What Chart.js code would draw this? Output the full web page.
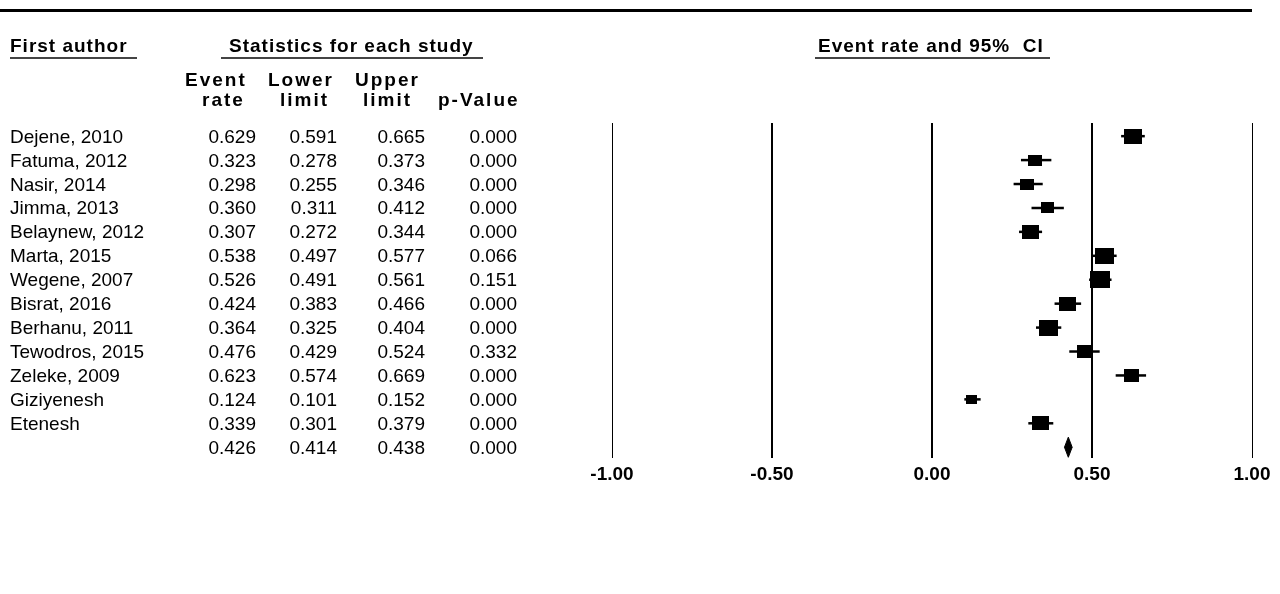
<!DOCTYPE html>
<html><head><meta charset="utf-8">
<script src="https://cdn.jsdelivr.net/npm/chart.js@4.4.1/dist/chart.umd.min.js"></script>
<style>html,body{margin:0;padding:0;background:#fff;overflow:hidden}#wrap{width:1280px;height:594px;position:relative}</style>
</head><body><div id="wrap"><canvas id="c" width="1280" height="594"></canvas></div>
<script>
// ---- data ----
const studies = ['Dejene, 2010','Fatuma, 2012','Nasir, 2014','Jimma, 2013','Belaynew, 2012','Marta, 2015','Wegene, 2007','Bisrat, 2016','Berhanu, 2011','Tewodros, 2015','Zeleke, 2009','Giziyenesh','Etenesh'];
const eventRate  = [0.629,0.323,0.298,0.360,0.307,0.538,0.526,0.424,0.364,0.476,0.623,0.124,0.339];
const lowerLimit = [0.591,0.278,0.255,0.311,0.272,0.497,0.491,0.383,0.325,0.429,0.574,0.101,0.301];
const upperLimit = [0.665,0.373,0.346,0.412,0.344,0.577,0.561,0.466,0.404,0.524,0.669,0.152,0.379];
const pValue     = ['0.000','0.000','0.000','0.000','0.000','0.066','0.151','0.000','0.000','0.332','0.000','0.000','0.000'];
const weights    = [9.27,5.36,5.36,4.95,8.65,10.51,11.68,8.17,10.30,6.70,6.70,3.71,8.65]; // relative weight (%)
const summaryRate = 0.426, summaryLower = 0.414, summaryUpper = 0.438, summaryP = '0.000';
const xTicks = [-1, -0.5, 0, 0.5, 1];

const FONT = '"Liberation Sans", Arial, sans-serif';

function boxCanvas(w, h) {
  const c = document.createElement('canvas');
  c.width = Math.round(w); c.height = Math.round(h);
  const g = c.getContext('2d');
  g.fillStyle = '#000'; g.fillRect(0, 0, c.width, c.height);
  return c;
}

const nRows = studies.length; // summary row index = nRows
const datasets = [];
datasets.push({
  label: 'studies', order: 0,
  data: eventRate.map((v, i) => ({x: v, y: i})),
  pointStyle: weights.map(w => boxCanvas(5.9 * Math.sqrt(w), 4.9 * Math.sqrt(w))),
  pointRadius: 8, showLine: false
});
studies.forEach((s, i) => {
  datasets.push({
    label: 'ci ' + s, order: 1,
    data: [{x: lowerLimit[i], y: i}, {x: upperLimit[i], y: i}],
    showLine: true, borderColor: '#000', borderWidth: 2.5, pointRadius: 0, borderCapStyle: 'butt'
  });
});
const dh = 0.42;
datasets.push({
  label: 'summary', order: 0,
  data: [{x: summaryLower, y: nRows}, {x: summaryRate, y: nRows - dh}, {x: summaryUpper, y: nRows}, {x: summaryRate, y: nRows + dh}, {x: summaryLower, y: nRows}],
  showLine: true, fill: 'shape', backgroundColor: '#000', borderColor: '#000', borderWidth: 1, pointRadius: 0, tension: 0
});

const tablePlugin = {
  id: 'table',
  afterDraw(chart) {
    const ctx = chart.ctx, ys = chart.scales.y;
    ctx.save();
    // top rule
    ctx.fillStyle = '#000';
    ctx.fillRect(0, 9, 1252, 3);
    // titles
    ctx.textBaseline = 'alphabetic';
    ctx.textAlign = 'left';
    ctx.font = 'bold 19px ' + FONT;
    ctx.letterSpacing = '1px';
    ctx.fillText('First author', 10, 52);
    ctx.fillText('Statistics for each study', 229, 52);
    ctx.fillText('Event rate and 95%  CI', 818, 52);
    ctx.fillStyle = '#444';
    ctx.fillRect(10, 57, 127, 2);
    ctx.fillRect(221, 57, 262, 2);
    ctx.fillRect(815, 57, 235, 2);
    // column headers
    ctx.fillStyle = '#000';
    ctx.letterSpacing = '2px';
    ctx.fillText('Event', 185, 86);
    ctx.fillText('rate', 202, 106);
    ctx.fillText('Lower', 268, 86);
    ctx.fillText('limit', 280, 106);
    ctx.fillText('Upper', 355, 86);
    ctx.fillText('limit', 363, 106);
    ctx.fillText('p-Value', 438, 106);
    // rows
    ctx.letterSpacing = '0px';
    ctx.font = '19px ' + FONT;
    const cols = [256, 337, 425, 517];
    const drawRow = (i, name, vals) => {
      const y = ys.getPixelForValue(i) + 6.5;
      ctx.textAlign = 'left';
      if (name) ctx.fillText(name, 10, y);
      ctx.textAlign = 'right';
      vals.forEach((v, k) => ctx.fillText(v, cols[k], y));
    };
    studies.forEach((s, i) => drawRow(i, s, [eventRate[i].toFixed(3), lowerLimit[i].toFixed(3), upperLimit[i].toFixed(3), pValue[i]]));
    drawRow(nRows, '', [summaryRate.toFixed(3), summaryLower.toFixed(3), summaryUpper.toFixed(3), summaryP]);
    ctx.restore();
  }
};

new Chart(document.getElementById('c'), {
  type: 'scatter',
  data: {datasets},
  options: {
    responsive: false, animation: false, events: [],
    layout: {padding: {left: 612, right: 28, top: 123, bottom: 106}},
    plugins: {legend: {display: false}, tooltip: {enabled: false}},
    scales: {
      x: {
        type: 'linear', min: -1, max: 1,
        afterBuildTicks: s => { s.ticks = xTicks.map(v => ({value: v})); },
        afterFit: s => { s.height = 30; },
        ticks: {callback: v => Number(v).toFixed(2), color: '#000', font: {family: FONT, size: 19, weight: 'bold'}, padding: 5, maxRotation: 0, autoSkip: false},
        grid: {color: '#000', lineWidth: [1, 2, 2, 2, 1], drawTicks: false},
        border: {display: false}
      },
      y: {type: 'linear', reverse: true, min: -0.55, max: 13.45, display: false}
    }
  },
  plugins: [tablePlugin]
});
</script>
</body></html>
